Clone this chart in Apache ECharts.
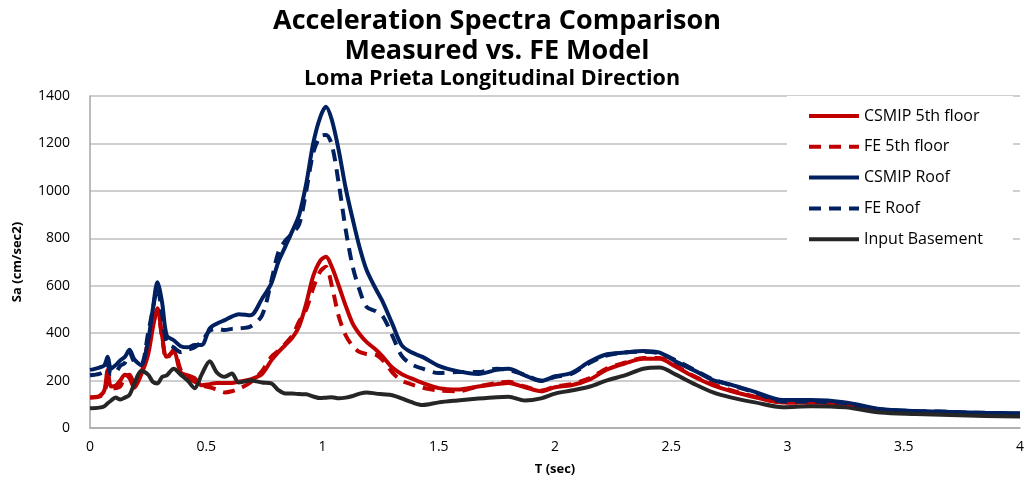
<!DOCTYPE html>
<html>
<head>
<meta charset="utf-8">
<script src="https://cdn.jsdelivr.net/npm/echarts@6/dist/echarts.min.js"></script>
<style>
  html, body { margin: 0; padding: 0; background: #fff; }
  #chart { width: 1027px; height: 482px; }
</style>
</head>
<body>
<div id="chart"></div>
<script>
// period T (sec)
const periods = [
  0, 0.04, 0.062, 0.076, 0.09, 0.11, 0.13, 0.15, 0.17, 0.19,
  0.22, 0.25, 0.27, 0.29, 0.31, 0.33, 0.36, 0.39, 0.42, 0.45,
  0.48, 0.515, 0.545, 0.58, 0.61, 0.64, 0.69, 0.74, 0.78, 0.81,
  0.84, 0.87, 0.9, 0.93, 0.96, 0.99, 1.015, 1.04, 1.07, 1.1,
  1.13, 1.16, 1.19, 1.23, 1.26, 1.3, 1.34, 1.38, 1.43, 1.5,
  1.58, 1.67, 1.75, 1.8, 1.87, 1.94, 2.0, 2.07, 2.15, 2.22,
  2.3, 2.38, 2.45, 2.52, 2.6, 2.68, 2.76, 2.86, 2.98, 3.1,
  3.25, 3.4, 3.55, 3.7, 3.85, 4.0
];

const csmip5th = [
  130, 135, 160, 245, 175, 178, 200, 225, 210, 170,
  225, 310, 420, 505, 390, 300, 320, 235, 222, 210,
  180, 185, 190, 190, 190, 195, 205, 228, 285, 320,
  350, 380, 430, 525, 640, 705, 722, 680, 600, 515,
  440, 395, 362, 330, 300, 255, 228, 210, 190, 168,
  162, 175, 185, 190, 172, 155, 172, 180, 205, 245,
  272, 292, 292, 258, 215, 180, 155, 130, 108, 108,
  100, 76, 68, 64, 60, 57
];

const fe5th = [
  128, 132, 150, 200, 165, 168, 175, 215, 225, 190,
  230, 370, 440, 490, 380, 290, 330, 245, 210, 195,
  180, 172, 162, 150, 155, 165, 192, 240, 300, 325,
  355, 390, 450, 500, 590, 660, 680, 600, 470, 390,
  345, 320, 312, 308, 285, 235, 200, 185, 170, 158,
  155, 175, 190, 195, 175, 158, 175, 185, 210, 250,
  275, 295, 295, 262, 218, 185, 158, 132, 108, 108,
  102, 78, 70, 65, 61, 58
];

const csmipRoof = [
  245, 255, 265, 300, 250, 265, 285, 300, 330, 290,
  265, 370, 500, 615, 530, 390, 370, 345, 340, 350,
  350, 420, 440, 455, 470, 480, 475, 545, 610, 700,
  765, 830, 900, 1030, 1200, 1310, 1355, 1300, 1170, 1010,
  880, 760, 665, 585, 530, 440, 350, 320, 300, 262,
  240, 228, 245, 250, 222, 198, 218, 232, 280, 310,
  318, 325, 318, 280, 242, 202, 182, 152, 118, 118,
  108, 80, 72, 68, 64, 62
];

const feRoof = [
  222, 228, 240, 265, 228, 232, 262, 275, 320, 280,
  270, 400, 500, 590, 480, 360, 340, 320, 330, 340,
  365, 410, 418, 413, 418, 420, 428, 475, 620, 740,
  790, 820, 860, 1000, 1160, 1230, 1236, 1195, 1030, 835,
  680, 580, 510, 492, 470, 390, 305, 270, 250, 232,
  236, 236, 250, 245, 224, 200, 215, 228, 275, 305,
  318, 322, 315, 285, 245, 205, 180, 150, 112, 112,
  104, 78, 72, 68, 63, 60
];

const basement = [
  83, 86, 92, 104, 115, 129, 120, 128, 140, 185,
  240, 225, 195, 188, 215, 222, 250, 225, 200, 168,
  225, 282, 235, 216, 230, 192, 200, 192, 188, 160,
  145, 145, 143, 142, 133, 126, 128, 130, 125, 128,
  135, 145, 150, 145, 142, 138, 125, 110, 97, 108,
  116, 124, 130, 132, 116, 125, 145, 158, 175, 200,
  222, 250, 255, 225, 185, 150, 128, 108, 88, 92,
  87, 65, 59, 55, 51, 48
];

const seriesNames = ["CSMIP 5th floor", "FE 5th floor", "CSMIP Roof", "FE Roof", "Input Basement"];
const seriesValues = [csmip5th, fe5th, csmipRoof, feRoof, basement];
const seriesColors = ["#c00000", "#c00000", "#002060", "#002060", "#262626"];
const seriesDashed = [false, true, false, true, false];

const chart = echarts.init(document.getElementById("chart"));

const series = seriesNames.map((name, i) => ({
  name: name,
  type: "line",
  symbol: "none",
  smooth: 0.3,
  data: periods.map((t, k) => [t, seriesValues[i][k]]),
  lineStyle: {
    color: seriesColors[i],
    width: 4,
    type: seriesDashed[i] ? [12, 8] : "solid",
  },
  itemStyle: { color: seriesColors[i] },
}));

const option = {
  animation: false,
  backgroundColor: "#fff",
  title: [
    {
      text: "Acceleration Spectra Comparison\nMeasured vs. FE Model",
      left: 492,
      top: 1,
      textAlign: "center",
      textStyle: {
        fontFamily: "Open Sans",
        fontWeight: "bold",
        fontSize: 27,
        lineHeight: 30,
        color: "#000",
      },
    },
    {
      text: "Loma Prieta Longitudinal Direction",
      left: 487,
      top: 63,
      textAlign: "center",
      textStyle: {
        fontFamily: "Open Sans",
        fontWeight: "bold",
        fontSize: 21.5,
        color: "#000",
      },
    },
  ],
  legend: {
    orient: "vertical",
    left: 787,
    top: 96,
    padding: [12, 30, 11, 20],
    backgroundColor: "#fff",
    itemWidth: 50,
    itemHeight: 14,
    itemGap: 14.8,
    itemStyle: { opacity: 0 },
    lineStyle: { width: 4 },
    data: seriesNames,
    textStyle: { fontFamily: "Open Sans", fontSize: 16, color: "#000" },
  },
  grid: {
    left: 90,
    right: 5,
    top: 96,
    bottom: 54,
    containLabel: false,
  },
  xAxis: {
    type: "value",
    min: 0,
    max: 4,
    interval: 0.5,
    name: "T (sec)",
    nameLocation: "middle",
    nameGap: 35,
    nameTextStyle: { fontFamily: "Open Sans", fontWeight: "bold", fontSize: 13, color: "#000" },
    axisLine: { lineStyle: { color: "#a6a6a6", width: 1.5 } },
    axisTick: { show: false },
    axisLabel: { fontFamily: "Open Sans", fontSize: 14, color: "#000", margin: 12 },
    splitLine: { show: false },
  },
  yAxis: {
    type: "value",
    min: 0,
    max: 1400,
    interval: 200,
    name: "Sa (cm/sec2)",
    nameLocation: "middle",
    nameGap: 66,
    nameTextStyle: { fontFamily: "Open Sans", fontWeight: "bold", fontSize: 13, color: "#000" },
    axisLine: { show: true, lineStyle: { color: "#a6a6a6", width: 1.5 } },
    axisTick: { show: false },
    axisLabel: {
      fontFamily: "Open Sans",
      fontSize: 14,
      color: "#000",
      margin: 20,
      formatter: (v) => String(v),
    },
    splitLine: { lineStyle: { color: "#bfbfbf", width: 1.5 } },
  },
  series: series,
};

chart.setOption(option);
</script>
</body>
</html>
